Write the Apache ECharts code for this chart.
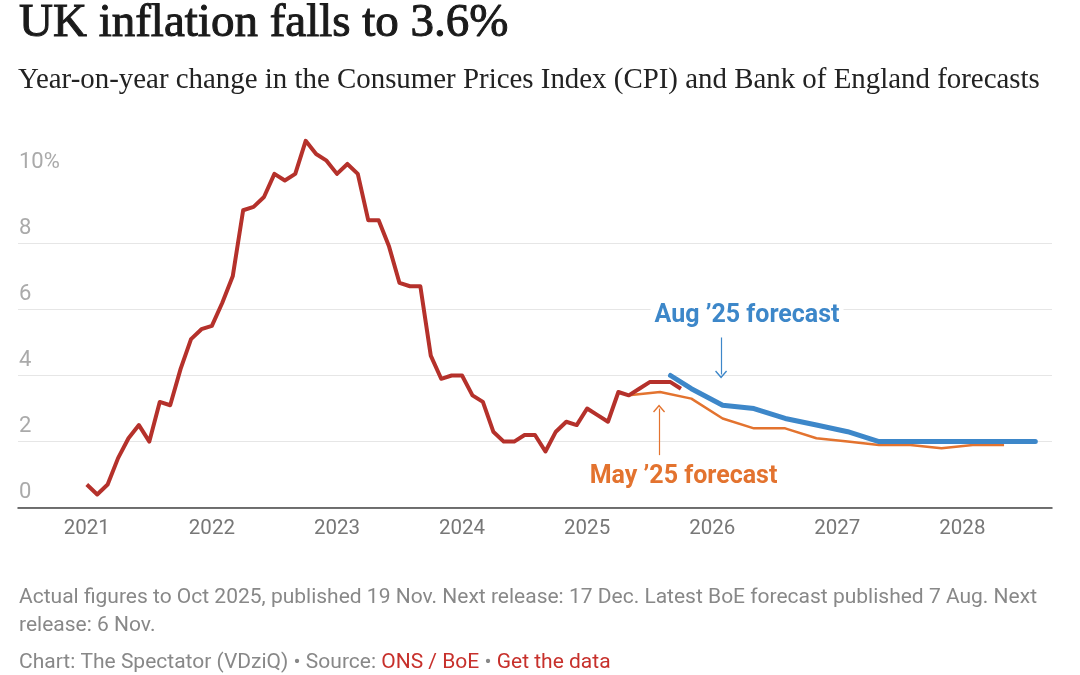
<!DOCTYPE html>
<html><head><meta charset="utf-8">
<script src="https://cdn.jsdelivr.net/npm/echarts@6/dist/echarts.min.js"></script>
<style>html,body{margin:0;padding:0;background:#fff}#c{width:1080px;height:675px}</style>
</head><body><div id="c"></div>
<script>
// ---- Data ----
const cpiFirstMonth = '2021-01';
const cpiValues = [
  0.7,0.4,0.7,1.5,2.1,2.5,2.0,3.2,3.1,4.2,5.1,5.4,
  5.5,6.2,7.0,9.0,9.1,9.4,10.1,9.9,10.1,11.1,10.7,10.5,
  10.1,10.4,10.1,8.7,8.7,7.9,6.8,6.7,6.7,4.6,3.9,4.0,
  4.0,3.4,3.2,2.3,2.0,2.0,2.2,2.2,1.7,2.3,2.6,2.5,
  3.0,2.8,2.6,3.5,3.4,3.6,3.8,3.8,3.8,3.6
];
const mayMonths = ['2025-05','2025-08','2025-11','2026-02','2026-05','2026-08','2026-11','2027-02','2027-05','2027-08','2027-11','2028-02','2028-05'];
const mayValues = [3.4,3.5,3.3,2.7,2.4,2.4,2.1,2.0,1.9,1.9,1.8,1.9,1.9];
const augMonths = ['2025-09','2025-11','2026-02','2026-05','2026-08','2026-11','2027-02','2027-05','2027-08','2027-11','2028-02','2028-05','2028-08'];
const augValues = [4.0,3.6,3.1,3.0,2.7,2.5,2.3,2.0,2.0,2.0,2.0,2.0,2.0];
const yearLabels = ['2021','2022','2023','2024','2025','2026','2027','2028'];
const yTicks = [0,2,4,6,8,10];

// ---- Helpers ----
function monthIndex(s){ const p = s.split('-').map(Number); return (p[0]-2021)*12 + (p[1]-1); }
const cpiStart = monthIndex(cpiFirstMonth);
const cpiData = cpiValues.map((v,i)=>[cpiStart+i, v]);
const mayData = mayMonths.map((m,i)=>[monthIndex(m), mayValues[i]]);
const augData = augMonths.map((m,i)=>[monthIndex(m), augValues[i]]);
const yearTicks = yearLabels.map((y,i)=>i*12);

const RED = '#b5312b', BLUE = '#3d87c9', ORANGE = '#e3732f';
const chev = 'path://M6,0 L12,7 L11,8 L6,2.2 L1,8 L0,7 Z';

const chart = echarts.init(document.getElementById('c'), null, {renderer:'canvas'});
chart.setOption({
  animation: false,
  backgroundColor: '#fff',
  title: [
    {text:'UK inflation falls to 3.6%', left:19, top:0, padding:0,
     textStyle:{fontFamily:'Liberation Serif', fontSize:47, fontWeight:'normal', color:'#1a1a1a', textBorderColor:'#1a1a1a', textBorderWidth:1}},
    {text:'Year-on-year change in the Consumer Prices Index (CPI) and Bank of England forecasts', left:18, top:66, padding:0,
     textStyle:{fontFamily:'Liberation Serif', fontSize:28.9, fontWeight:'normal', color:'#222'}},
    {text:'Actual figures to Oct 2025, published 19 Nov. Next release: 17 Dec. Latest BoE forecast published 7 Aug. Next\nrelease: 6 Nov.', left:19, top:584, padding:0,
     textStyle:{fontFamily:'Roboto', fontSize:21, fontWeight:'normal', color:'#888', lineHeight:28}},
    {text:'Chart: The Spectator (VDziQ) • Source: {r|ONS / BoE} • {r|Get the data}', left:19, top:652, padding:0,
     textStyle:{fontFamily:'Roboto', fontSize:21, fontWeight:'normal', color:'#888',
       rich:{r:{fontFamily:'Roboto', fontSize:21, color:'#c7302b'}}}}
  ],
  grid: {left:18, right:28, top:127.6, bottom:167.3, containLabel:false, outerBoundsMode:'none'},
  xAxis: {
    type:'value', min:-6.6, max:92.6,
    axisLine:{show:true, onZero:false, lineStyle:{color:'#444', width:1.5}},
    axisTick:{show:false},
    splitLine:{show:false},
    axisLabel:{customValues: yearTicks, formatter: v => yearLabels[Math.round(v/12)],
      color:'#777', fontSize:20.5, fontFamily:'Roboto', margin:11}
  },
  yAxis: {
    type:'value', min:0, max:11.5,
    axisLine:{show:false},
    axisTick:{show:false, customValues: yTicks},
    splitLine:{show:true, showMaxLine:false, lineStyle:{color:'#e6e6e6', width:1.2}},
    axisLabel:{customValues: yTicks, inside:true, align:'left', verticalAlign:'bottom', margin:1,
      padding:[0,0,4,0], color:'#aaa', fontSize:22, fontFamily:'Roboto',
      formatter: v => v === 10 ? '10%' : String(v)}
  },
  series: [
    {name:'May 25 forecast', type:'line', data: mayData, symbol:'none', z:2,
     lineStyle:{color:ORANGE, width:2.5},
     markLine:{silent:true, symbol:['none', chev], symbolSize:[12,8], label:{show:false},
       lineStyle:{color:ORANGE, width:1.2, type:'solid'},
       data:[[{coord:[54.9,1.59]},{coord:[54.9,3.0]}]]},
     markPoint:{silent:true, symbol:'circle', symbolSize:1, itemStyle:{color:'rgba(0,0,0,0)'},
       label:{show:true, position:'inside', formatter:'May ’25 forecast', color:ORANGE, fontSize:25, fontWeight:'bold', fontFamily:'Roboto', backgroundColor:'#fff', padding:[0,4]},
       data:[{coord:[57.25,0.93]}]}
    },
    {name:'CPI', type:'line', data: cpiData, symbol:'none', z:3,
     lineStyle:{color:RED, width:4, join:'round'}},
    {name:'Aug 25 forecast', type:'line', data: augData, symbol:'none', z:4,
     lineStyle:{color:BLUE, width:5, cap:'round', join:'round'},
     markLine:{silent:true, symbol:['none', chev], symbolSize:[12,8], label:{show:false},
       lineStyle:{color:BLUE, width:1.2, type:'solid'},
       data:[[{coord:[60.85,5.15]},{coord:[60.85,4.03]}]]},
     markPoint:{silent:true, symbol:'circle', symbolSize:1, itemStyle:{color:'rgba(0,0,0,0)'},
       label:{show:true, position:'inside', formatter:'Aug ’25 forecast', color:BLUE, fontSize:25, fontWeight:'bold', fontFamily:'Roboto', backgroundColor:'#fff', padding:[0,4]},
       data:[{coord:[63.34,5.8]}]}
    }
  ]
});
</script>
</body></html>
